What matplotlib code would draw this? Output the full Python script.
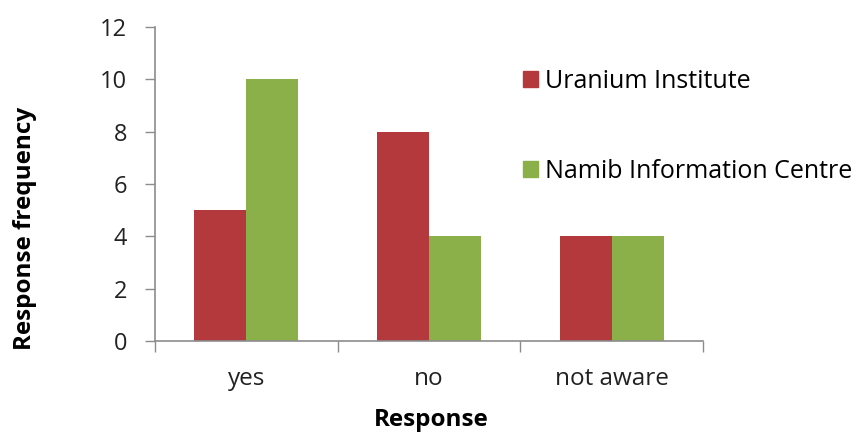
import matplotlib.pyplot as plt
import numpy as np
from matplotlib.patches import Patch

categories = ["yes", "no", "not aware"]
uranium = [5, 8, 4]
namib = [10, 4, 4]
series_names = ["Uranium Institute", "Namib Information Centre"]

red = "#B3393C"
green = "#8BB04A"
axis_grey = "#8C8C8C"

plt.rcParams['font.family'] = ['Open Sans', 'DejaVu Sans']

fig = plt.figure(figsize=(8.61, 4.33), dpi=100)
ax = fig.add_axes([0.180, 0.2125, 0.6365, 0.7251])

x = np.arange(len(categories))
w = 0.285
ax.bar(x - w / 2, uranium, w, color=red, label=series_names[0])
ax.bar(x + w / 2, namib, w, color=green, label=series_names[1])

ax.set_xlim(-0.5, len(categories) - 0.5)
ax.set_ylim(0, 12)
ax.set_yticks(range(0, 13, 2))

# category labels at centres, tick marks at the boundaries
ax.set_xticks(x)
ax.set_xticklabels(categories, fontsize=17.5, color="#222222")
ax.set_xticks(np.arange(-0.5, len(categories), 1), minor=True)
ax.tick_params(axis="x", which="major", length=0, pad=19)
ax.tick_params(axis="x", which="minor", length=8, width=1, color=axis_grey, direction="out")
ax.tick_params(axis="y", length=7, width=1, color=axis_grey, labelsize=17, labelcolor="#222222", pad=13)

for side in ["top", "right"]:
    ax.spines[side].set_visible(False)
for side in ["left", "bottom"]:
    ax.spines[side].set_color(axis_grey)
    ax.spines[side].set_linewidth(1.2)

ax.set_ylabel("Response frequency", fontsize=17.5, fontweight="bold")
ax.yaxis.set_label_coords(-0.215, 0.36)
ax.set_xlabel("Response", fontsize=17.5, fontweight="bold")
ax.xaxis.set_label_coords(0.505, -0.215)

handles = [Patch(color=red), Patch(color=green)]
fig.legend(handles, series_names, loc="upper left", bbox_to_anchor=(0.5925, 0.87),
           frameon=False, fontsize=18, handlelength=0.6, handleheight=0.6,
           handletextpad=0.3, labelspacing=2.6, borderpad=0)

fig.savefig("out.png", dpi=100)
